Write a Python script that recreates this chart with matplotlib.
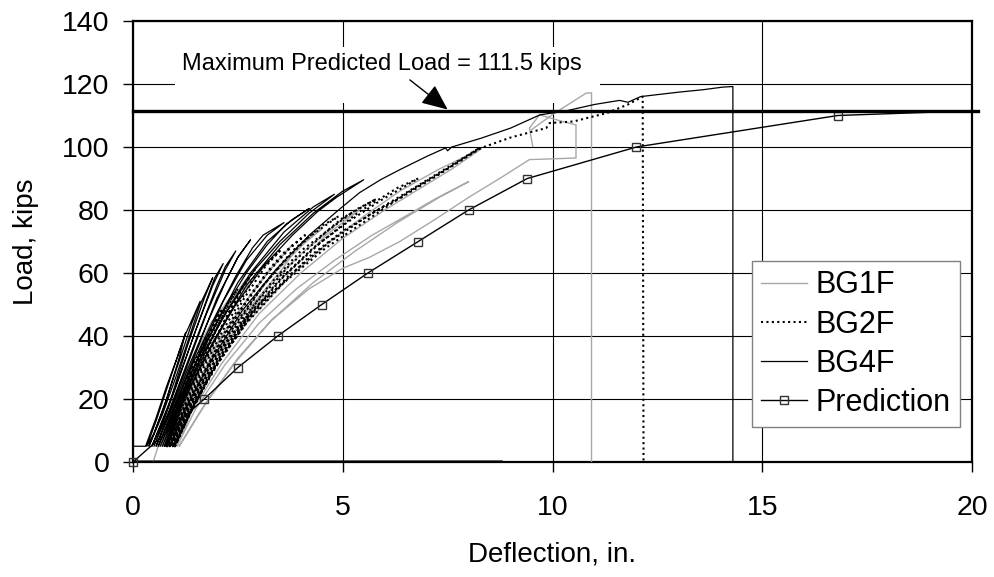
import numpy as np
import matplotlib
matplotlib.use("Agg")
import matplotlib.pyplot as plt
from matplotlib.patches import Rectangle

plt.rcParams['font.family'] = ['Liberation Sans', 'DejaVu Sans']

nan = np.nan

# ---------------- data ----------------
# Each line of numbers is one load/unload cycle (loading branch, then unloading branch).
bg1f_x = [0.48, 0.65, 0.85, 1.05, 1.3, 1.1, 0.85, 0.62,
          0.85, 1.1, 1.3, 1.6, 1.35, 1.05, 0.68,
          0.9, 1.2, 1.5, 1.6, 1.9, 1.65, 1.25, 0.9, 0.72,
          0.95, 1.3, 1.65, 1.9, 2.3, 2.0, 1.5, 1.05, 0.76,
          1.0, 1.4, 1.85, 2.25, 2.35, 2.7, 2.4, 1.9, 1.4, 0.8,
          1.05, 1.5, 2.0, 2.45, 2.75, 3.2, 2.85, 2.3, 1.7, 1.15, 0.85,
          1.1, 1.6, 2.2, 2.8, 3.25, 3.8, 3.4, 2.8, 2.0, 1.35, 0.9,
          1.15, 1.7, 2.4, 3.1, 3.6, 3.9, 4.5, 4.05, 3.3, 2.6, 1.9, 1.3, 0.95,
          1.2, 1.8, 2.5, 3.3, 4.0, 4.6, 5.4, 4.9, 4.0, 3.2, 2.4, 1.7, 1.0,
          1.25, 1.9, 2.7, 3.6, 4.6, 5.5, 6.36, 7.3, 8.3, 7.6, 6.8, 6.0, 5.0, 4.0, 3.0, 2.1, 1.4, 1.05,
          1.5, 2.2, 3.0, 3.9, 4.8, 5.7, 6.36, 7.2, 8.0, 7.3, 6.3, 5.3, 4.3, 3.3, 2.4, 1.6, 1.1,
          1.8, 2.5, 3.3, 4.2, 5.0, 5.64, 6.36, 7.2, 8.0, 8.8, 9.45, 10.56, 10.56, 10.24, 9.69, 9.45, 9.53,
          nan, 9.5, 10.0, 10.8, 10.93, 10.93]
bg1f_y = [0, 7, 14, 22, 30, 23, 12, 5,
          13, 23, 29.5, 38, 30, 17, 5,
          14, 25, 35, 37.5, 45, 38, 24, 12, 5,
          14, 26, 37, 44.5, 52, 45, 31, 16, 5,
          15, 27, 39, 49, 51.5, 58, 52, 40, 25, 5,
          15, 28, 40, 50, 57, 63, 58, 47, 32, 15, 5,
          15, 29, 42, 53, 61, 69, 63, 53, 37, 20, 5,
          15, 29, 43, 54, 62, 68, 74, 69, 59, 47, 32, 17, 5,
          15, 30, 43, 55, 64, 72, 80, 76, 66, 55, 41, 26, 5,
          15, 30, 44, 57, 69, 78, 86, 93, 99.4, 93, 86.5, 80, 71, 60, 47, 31, 16, 5,
          17, 31, 44, 55, 64, 72, 77, 83.5, 89, 84, 76, 67, 57, 45, 31, 16, 5,
          20, 33, 45, 55, 61.5, 65, 70, 77, 84, 90.5, 96, 96.5, 107, 108.1, 110.2, 106, 100.2,
          nan, 105.5, 110.3, 117.1, 117.2, 0]

bg2f_x = [0.75, 0.95, 1.15, 1.4, 1.25, 1.0, 0.78,
          1.0, 1.2, 1.4, 1.75, 1.55, 1.25, 0.8,
          1.05, 1.35, 1.7, 1.8, 2.1, 1.85, 1.45, 1.1, 0.82,
          1.1, 1.45, 1.85, 2.15, 2.5, 2.25, 1.85, 1.4, 0.85,
          1.15, 1.55, 2.0, 2.35, 2.6, 2.9, 2.6, 2.15, 1.65, 1.15, 0.88,
          1.2, 1.65, 2.15, 2.6, 2.95, 3.5, 3.15, 2.65, 2.1, 1.5, 0.9,
          1.25, 1.75, 2.3, 2.85, 3.3, 3.6, 4.1, 3.75, 3.2, 2.5, 1.8, 1.2, 0.92,
          1.3, 1.85, 2.45, 3.1, 3.7, 4.2, 4.9, 4.5, 3.8, 3.1, 2.4, 1.65, 0.95,
          1.35, 1.95, 2.6, 3.3, 4.0, 4.5, 5.0, 5.8, 5.3, 4.6, 3.7, 2.9, 2.1, 1.45, 0.98,
          1.4, 2.05, 2.75, 3.5, 4.3, 5.1, 5.9, 6.8, 6.3, 5.4, 4.5, 3.6, 2.7, 1.9, 1.3, 1.0,
          1.45, 2.1, 2.85, 3.7, 4.7, 5.7, 6.7, 7.5, 8.26, 7.6, 6.6, 5.6, 4.6, 3.6, 2.7, 1.9, 1.3, 1.0,
          1.52, 2.15, 2.94, 3.5, 4.21, 5.0, 5.9, 6.4, 7.2, 7.86, 8.3, 9.0, 9.5, 9.85, 9.93, 10.5,
          11.3, 11.8, 12.15, 12.17]
bg2f_y = [5, 12, 21, 30, 23, 12, 5,
          13, 22, 29.5, 40, 33, 21, 5,
          14, 26, 38, 40.5, 48, 42, 29, 16, 5,
          15, 27, 39, 47, 55, 50, 38, 24, 5,
          15, 28, 40, 49, 55.5, 61, 55, 44, 30, 14, 5,
          15, 29, 42, 52, 60, 67, 62, 52, 39, 23, 5,
          16, 30, 43, 54, 62, 66.5, 72, 68, 60, 47, 30, 14, 5,
          16, 31, 44, 56, 65, 71.5, 78, 75, 67, 56, 42, 25, 5,
          17, 32, 45, 57, 67, 72, 77.5, 83.5, 80, 73, 62, 50, 34, 18, 5,
          17, 33, 46, 58, 68, 76, 83, 90, 87, 79.5, 70, 59, 45, 29, 14, 5,
          18, 33, 47, 59, 70, 79, 87, 93.5, 99.7, 94, 86, 77, 68, 57, 44, 29, 14, 5,
          21, 36.8, 49.5, 55.8, 65.3, 73.3, 80.5, 84, 90.5, 96, 99.7, 103, 104.8, 106, 107.6, 108.1,
          110.8, 113.5, 116, 0]

bg4f_x = [0.0, 0.0, 0.3,
          0.55, 0.8, 1.05, 1.25, 1.1, 0.8, 0.5, 0.33,
          0.55, 0.85, 1.1, 1.25, 1.6, 1.4, 1.05, 0.7, 0.38,
          0.7, 1.05, 1.35, 1.6, 1.9, 1.7, 1.3, 0.9, 0.45,
          0.8, 1.15, 1.5, 1.85, 1.95, 2.15, 1.9, 1.5, 1.0, 0.5,
          0.85, 1.25, 1.65, 2.0, 2.2, 2.45, 2.2, 1.75, 1.25, 0.55,
          0.9, 1.35, 1.8, 2.2, 2.5, 2.8, 2.5, 2.0, 1.45, 0.6,
          0.95, 1.45, 1.95, 2.45, 2.85, 3.1, 3.6, 3.2, 2.7, 2.15, 1.55, 0.65,
          1.0, 1.55, 2.1, 2.7, 3.2, 3.65, 4.2, 3.8, 3.2, 2.5, 1.8, 1.15, 0.7,
          1.05, 1.65, 2.25, 2.9, 3.5, 4.2, 4.8, 4.3, 3.6, 2.8, 2.1, 1.4, 0.75,
          1.1, 1.75, 2.4, 3.1, 3.8, 4.4, 4.85, 5.5, 5.0, 4.3, 3.5, 2.7, 1.9, 1.2, 0.8,
          1.25, 1.9, 2.6, 3.4, 4.2, 4.9, 5.4, 5.9, 6.36, 7.0, 7.45, 7.5, 7.6, 8.3, 9.0,
          9.7, 10.3, 11.0, 11.6, 11.8, 12.1, 13.0, 13.6, 14.05, 14.3, 14.3,
          nan, 0.0, 8.8]
bg4f_y = [0, 5, 5,
          14, 24, 33, 41, 33, 20, 9, 5,
          13, 25, 35, 40.5, 51, 44, 30, 16, 5,
          15, 28, 40, 50, 58.5, 52, 37, 20, 5,
          16, 29, 42, 55, 58.5, 63, 56, 42, 23, 5,
          16, 30, 44, 56, 62, 67, 61, 47, 29, 5,
          16, 31, 45, 57, 65, 70.5, 65, 52, 33, 5,
          16, 32, 46, 59, 68, 72, 76, 72, 64, 51, 33, 5,
          17, 33, 47, 60, 69, 75.5, 80.5, 77, 70, 57, 39, 19, 5,
          17, 34, 48, 61, 70, 79, 85, 81, 73, 60, 45, 26, 5,
          17, 34, 49, 62, 72, 79.5, 84, 89.6, 86, 79, 69, 56, 38, 19, 5,
          17, 33, 48, 61, 72, 80, 85.5, 89.6, 92.8, 97, 99.7, 98.8, 100, 102.8, 106,
          110.2, 111.4, 113.5, 114.8, 114.2, 116, 117.4, 118.2, 119, 119.2, 0,
          nan, 0.3, 0.3]

pred_x = [0.0, 1.7, 2.5, 3.45, 4.5, 5.6, 6.8, 8.0, 9.4, 12.0, 16.8, 20.0]
pred_y = [0, 20, 30, 40, 50, 60, 70, 80, 90, 100, 110, 111.5]

max_load = 111.5
x_ticks = [0, 5, 10, 15, 20]
y_ticks = [0, 20, 40, 60, 80, 100, 120, 140]

# ---------------- figure ----------------
fig = plt.figure(figsize=(9.94, 5.77), dpi=100)
ax = fig.add_axes([133/994, 1 - 462/577, (972 - 133)/994, (462 - 21)/577])

ax.plot(bg1f_x, bg1f_y, color='#a8a8a8', lw=1.0, label='BG1F', zorder=3)
ax.plot(bg2f_x, bg2f_y, color='black', lw=1.5, ls=(0, (1, 1.6)), label='BG2F', zorder=3)
ax.plot(bg4f_x, bg4f_y, color='black', lw=0.9, label='BG4F', zorder=3)
ax.plot(pred_x, pred_y, color='black', lw=1.0, marker='s', markersize=6,
        markerfacecolor='none', markeredgecolor='#333333', markeredgewidth=1.0,
        markevery=list(range(len(pred_x) - 1)), label='Prediction', zorder=4,
        clip_on=False)

ax.plot([0, 20.15], [max_load, max_load], color='black', lw=2.4, zorder=4, clip_on=False)

ax.set_xlim(0, 20)
ax.set_ylim(0, 140)
ax.set_xticks(x_ticks)
ax.set_yticks(y_ticks)
ax.grid(True, color='black', lw=0.8)
ax.set_axisbelow(True)
for s in ax.spines.values():
    s.set_linewidth(1.6)
    s.set_color('black')
ax.tick_params(axis='both', direction='out', length=7, width=1, labelsize=20.5, colors='black')
ax.tick_params(axis='x', pad=17)
ax.tick_params(axis='y', pad=10)

ax.set_xlabel('Deflection, in.', fontsize=20)
ax.set_ylabel('Load, kips', fontsize=20)
ax.xaxis.set_label_coords(0.5, -0.18)
ax.yaxis.set_label_coords(-0.112, 0.5)

# white label box behind the annotation text, then text and arrow
box = Rectangle(((175 - 133)/839, (462 - 103)/441), (600 - 175)/839, (103 - 47)/441,
                transform=ax.transAxes, facecolor='white', edgecolor='none', zorder=2)
ax.add_patch(box)
ax.text(5.93, 126.2, 'Maximum Predicted Load = 111.5 kips', ha='center', va='center',
        fontsize=17, zorder=5)
ax.annotate('', xy=(7.5, max_load + 0.4), xytext=(6.6, 121.3),
            arrowprops=dict(arrowstyle='-|>,head_length=0.8,head_width=0.35', color='black',
                            lw=1.0, mutation_scale=20, shrinkA=0, shrinkB=0), zorder=5)

leg = ax.legend(loc='lower right', bbox_to_anchor=(0.986, 0.079), borderaxespad=0,
                fontsize=22, frameon=True, fancybox=False, framealpha=1,
                edgecolor='#808080', labelspacing=0.3, borderpad=0.3,
                handlelength=1.5, handletextpad=0.3)
leg.get_frame().set_linewidth(1.0)
leg.set_zorder(6)

fig.savefig('out.png', dpi=100)
